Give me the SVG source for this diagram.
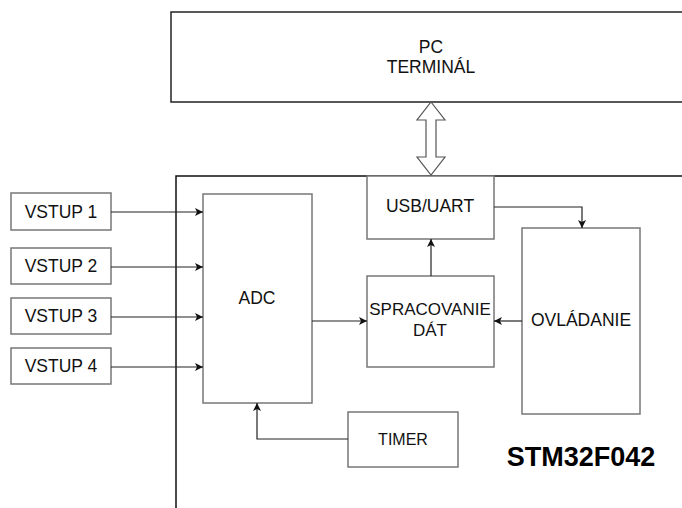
<svg xmlns="http://www.w3.org/2000/svg" width="682" height="508" viewBox="0 0 682 508">
<defs>
<style>
.box{fill:#fff;stroke:#777;stroke-width:1.5}
.cont{fill:none;stroke:#111;stroke-width:1.5}
.t{font-family:"Liberation Sans",Arial,sans-serif;font-size:17.5px;fill:#111;text-anchor:middle;dominant-baseline:central}
.c{fill:none;stroke:#222;stroke-width:1.2}
</style>
<marker id="ah" markerWidth="10" markerHeight="10" refX="9" refY="5" orient="auto" markerUnits="userSpaceOnUse">
<path d="M1,1 L9,5 L1,9 L3,5 Z" fill="#111"/>
</marker>
</defs>
<rect width="682" height="508" fill="#fff"/>
<g id="stm32">
<path class="cont" d="M176,508 V176 H682"/>
<text x="581" y="466" style="font-family:'Liberation Sans',Arial,sans-serif;font-size:27px;font-weight:bold;fill:#000;text-anchor:middle">STM32F042</text>
</g>
<g id="pc">
<path class="cont" d="M682,12 H171 V102 H682" style="stroke:#222"/>
<text class="t" x="431" y="47">PC</text>
<text class="t" x="431" y="67">TERMINÁL</text>
</g>
<g id="vstup1"><rect class="box" x="11" y="193" width="100" height="37"/><text class="t" x="61" y="212">VSTUP 1</text></g>
<g id="vstup2"><rect class="box" x="11" y="248" width="100" height="36"/><text class="t" x="61" y="266">VSTUP 2</text></g>
<g id="vstup3"><rect class="box" x="11" y="298" width="100" height="36"/><text class="t" x="61" y="316">VSTUP 3</text></g>
<g id="vstup4"><rect class="box" x="11" y="348" width="100" height="36"/><text class="t" x="61" y="366">VSTUP 4</text></g>
<g id="adc"><rect class="box" x="203" y="194" width="109" height="209"/><text class="t" x="257" y="298">ADC</text></g>
<g id="usb"><rect class="box" x="367" y="176" width="127" height="63"/><text class="t" x="430" y="206">USB/UART</text></g>
<g id="spracovanie"><rect class="box" x="367" y="276" width="127" height="91"/><text class="t" x="430" y="309" style="font-size:17px">SPRACOVANIE</text><text class="t" x="430" y="330" style="font-size:17px">DÁT</text></g>
<g id="ovladanie"><rect class="box" x="522" y="228" width="118" height="186"/><text class="t" x="581" y="320">OVLÁDANIE</text></g>
<g id="timer"><rect class="box" x="348" y="412" width="110" height="55"/><text class="t" x="403" y="439" style="font-size:16px">TIMER</text></g>
<g id="connectors">
<path class="c" d="M111,212 H203" marker-end="url(#ah)"/>
<path class="c" d="M111,267 H203" marker-end="url(#ah)"/>
<path class="c" d="M111,317 H203" marker-end="url(#ah)"/>
<path class="c" d="M111,367 H203" marker-end="url(#ah)"/>
<path class="c" d="M312,321 H367" marker-end="url(#ah)"/>
<path class="c" d="M431,276 V239" marker-end="url(#ah)"/>
<path class="c" d="M522,321 H494" marker-end="url(#ah)"/>
<path class="c" d="M494,207 H582 V228" marker-end="url(#ah)"/>
<path class="c" d="M348,439 H257 V403" marker-end="url(#ah)"/>
<path d="M431,102 L445,120 L436,120 L436,157 L445,157 L431,175 L417,157 L426,157 L426,120 L417,120 Z" fill="#fff" stroke="#555" stroke-width="1.2"/>
</g>
</svg>
